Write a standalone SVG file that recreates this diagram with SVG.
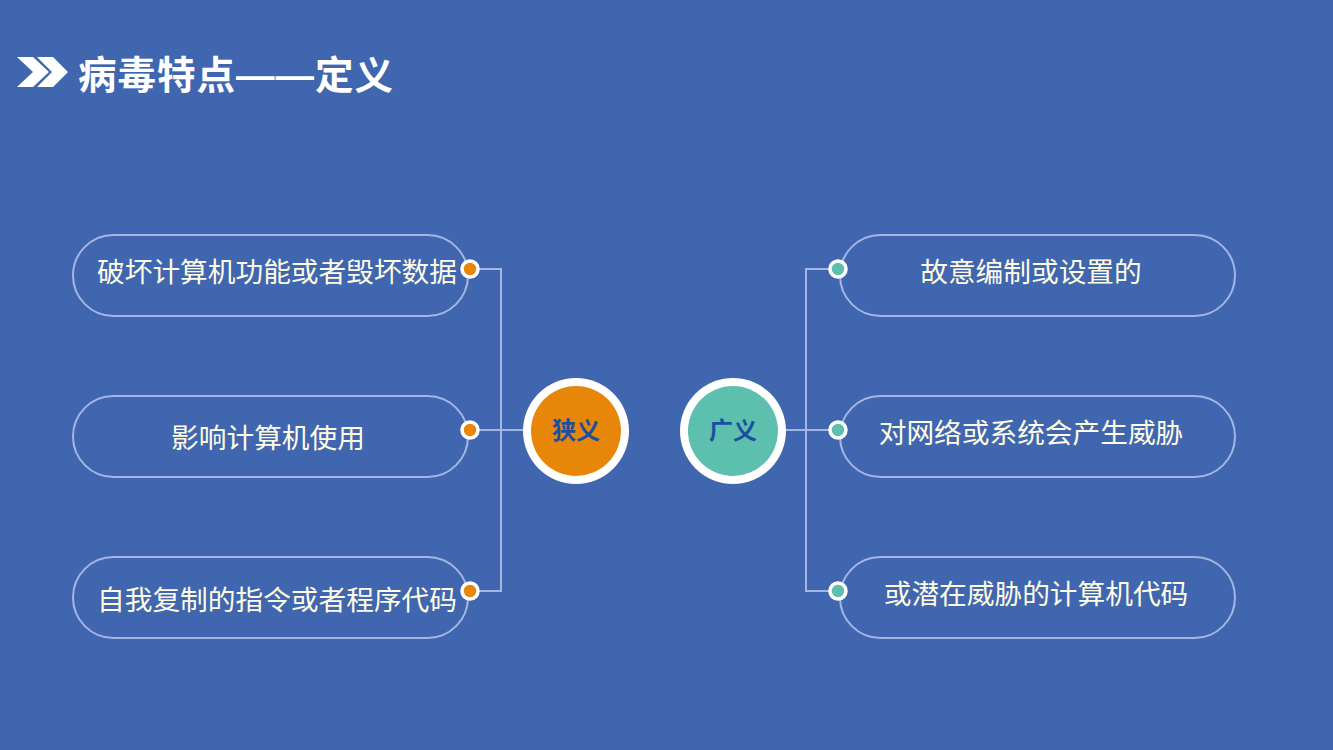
<svg xmlns="http://www.w3.org/2000/svg" width="1333" height="750" viewBox="0 0 1333 750">
<style>
.pill{fill:none;stroke:#A6B6E2;stroke-width:2}
.lbl{font-family:"Liberation Sans","Noto Sans CJK SC",sans-serif;font-size:27.7px;fill:#FFFCE6;text-anchor:middle}
.ctr{font-family:"Liberation Sans","Noto Sans CJK SC",sans-serif;font-size:24px;font-weight:bold;fill:#1B4FA0;text-anchor:middle}
.ln{fill:none;stroke:#A6B6E2;stroke-width:2}
.dotL{fill:#E8860A;stroke:#FFFFFF;stroke-width:3.5}
.dotR{fill:#5DBFAE;stroke:#FFFFFF;stroke-width:3.5}
</style>
<rect x="0" y="0" width="1333" height="750" fill="#4066B0"/>
<g id="title">
<polygon points="17,57 33,57 49,72 33,87 17,87 33,72" fill="#FFFFFF"/>
<polygon points="37,57 53,57 68,72 53,87 37,87 52,72" fill="#FFFFFF"/>
<text x="78" y="89" font-family="'Liberation Sans','Noto Sans CJK SC',sans-serif" font-size="38.5" font-weight="bold" fill="#FFFFFF" textLength="315" lengthAdjust="spacing">病毒特点——定义</text>
</g>
<g id="connectors">
<polyline class="ln" points="470,269 501,269 501,591 470,591"/>
<line class="ln" x1="470" y1="430" x2="525" y2="430"/>
<polyline class="ln" points="838,269 806,269 806,591 838,591"/>
<line class="ln" x1="784" y1="430" x2="838" y2="430"/>
</g>
<g id="n-left1">
<rect class="pill" x="73" y="235" width="395" height="81" rx="40.5"/>
<text class="lbl" x="277" y="282">破坏计算机功能或者毁坏数据</text>
<circle class="dotL" cx="470" cy="269" r="8"/>
</g>
<g id="n-left2">
<rect class="pill" x="73" y="396" width="395" height="81" rx="40.5"/>
<text class="lbl" x="268" y="448">影响计算机使用</text>
<circle class="dotL" cx="470" cy="430" r="8"/>
</g>
<g id="n-left3">
<rect class="pill" x="73" y="557" width="395" height="81" rx="40.5"/>
<text class="lbl" x="277" y="610">自我复制的指令或者程序代码</text>
<circle class="dotL" cx="470" cy="591" r="8"/>
</g>
<g id="n-narrow">
<circle cx="576" cy="431" r="53" fill="#FFFFFF"/>
<circle cx="576" cy="431" r="45" fill="#E8860A"/>
<text class="ctr" x="576" y="439">狭义</text>
</g>
<g id="n-broad">
<circle cx="733" cy="431" r="53" fill="#FFFFFF"/>
<circle cx="733" cy="431" r="45" fill="#5DBFAE"/>
<text class="ctr" x="733" y="439">广义</text>
</g>
<g id="n-right1">
<rect class="pill" x="840" y="235" width="395" height="81" rx="40.5"/>
<text class="lbl" x="1031" y="282">故意编制或设置的</text>
<circle class="dotR" cx="838" cy="269" r="8"/>
</g>
<g id="n-right2">
<rect class="pill" x="840" y="396" width="395" height="81" rx="40.5"/>
<text class="lbl" x="1031" y="443">对网络或系统会产生威胁</text>
<circle class="dotR" cx="838" cy="430" r="8"/>
</g>
<g id="n-right3">
<rect class="pill" x="840" y="557" width="395" height="81" rx="40.5"/>
<text class="lbl" x="1036" y="604">或潜在威胁的计算机代码</text>
<circle class="dotR" cx="838" cy="591" r="8"/>
</g>
</svg>
